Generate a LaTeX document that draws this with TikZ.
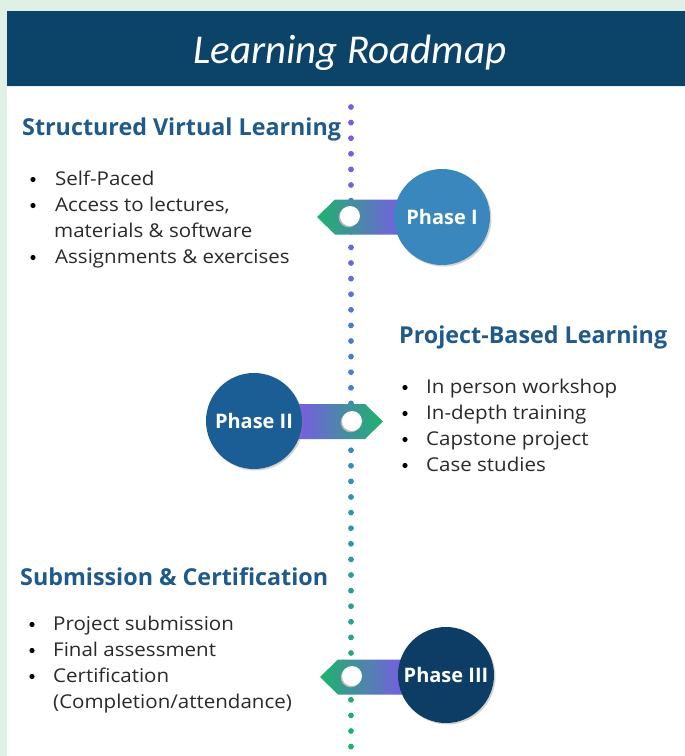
\documentclass[tikz,border=0pt]{standalone}
\usepackage{fontspec}
\setmainfont{Open Sans}
\newfontfamily\titlefont{Carlito}
\newfontfamily\bodyfont[FakeStretch=1.08]{Open Sans}
\usetikzlibrary{shadows}

\definecolor{bgmint}{HTML}{DFF0E6}
\definecolor{band}{HTML}{0C4369}
\definecolor{heading}{HTML}{1F5A8A}
\definecolor{bodytext}{HTML}{2A2A2A}
\definecolor{purp}{HTML}{7B5BE6}
\definecolor{midblue}{HTML}{3F86C8}
\definecolor{grn}{HTML}{1DB36B}
\definecolor{phaseA}{HTML}{3A87BE}
\definecolor{phaseB}{HTML}{1B5E95}
\definecolor{phaseC}{HTML}{0D3D64}

\tikzset{
  phasecircle/.style={circle, minimum size=96pt, inner sep=0pt, text=white,
    font=\bfseries\fontsize{20}{20}\selectfont,
    drop shadow={shadow xshift=1.5pt, shadow yshift=-1.5pt, opacity=0.35}},
  knob/.style={circle, fill=white, minimum size=20pt, inner sep=0pt,
    general shadow={fill=gray!55, shadow xshift=-1.3pt, shadow yshift=-1.3pt}},
  headtext/.style={anchor=base west, inner sep=0pt, text=heading,
    font=\bfseries\fontsize{23.3}{23.3}\selectfont},
  itemtext/.style={anchor=base west, inner sep=0pt, text=bodytext,
    font=\bodyfont\fontsize{19}{19}\selectfont},
  bulletdot/.style={circle, fill=black, inner sep=0pt, minimum size=5.2pt},
}

\begin{document}
\begin{tikzpicture}[x=1pt, y=-1pt]
  % page background and white panel
  \fill[bgmint] (0,0) rectangle (685,756);
  \useasboundingbox (0,0) rectangle (685,756);
  \fill[white] (7,87) rectangle (685,756);

  % title band
  \fill[band] (7,11) rectangle (685,86);
  \node[anchor=base, inner sep=0pt, text=white,
        font=\titlefont\itshape\fontsize{41}{41}\selectfont] (title) at (350,63) {Learning Roadmap};

  % dotted timeline, purple at the top to green at the bottom
  \foreach \k in {0,...,41}{
    \pgfmathsetmacro\yy{107+15.6*\k}
    \ifnum\k<21
      \pgfmathtruncatemacro\p{100-5*\k}
      \colorlet{dotc}{purp!\p!midblue}
    \else
      \pgfmathtruncatemacro\p{100-(\k-20)*100/21}
      \colorlet{dotc}{midblue!\p!grn}
    \fi
    \fill[dotc] (351,\yy) circle[radius=2.9];
  }

  % Phase I pointer (points left)
  \shade[left color=grn, right color=purp]
    (317,217) -- (335,199.5) -- (404,199.5) -- (404,234.5) -- (335,234.5) -- cycle;
  % Phase II pointer (points right)
  \shade[left color=purp, right color=grn]
    (296,404) -- (365,404) -- (383,421.5) -- (365,439) -- (296,439) -- cycle;
  % Phase III pointer (points left)
  \shade[left color=grn, right color=purp]
    (320,677) -- (338,659.5) -- (406,659.5) -- (406,694.5) -- (338,694.5) -- cycle;

  % knobs on the timeline
  \node[knob] (k1) at (350,216) {};
  \node[knob] (k2) at (352,421) {};
  \node[knob] (k3) at (352,676) {};

  % phase circles
  \node[phasecircle, fill=phaseA] (p1) at (442,217) {Phase I};
  \node[phasecircle, fill=phaseB] (p2) at (254,421) {Phase II};
  \node[phasecircle, fill=phaseC] (p3) at (446,675) {Phase III};

  % Structured Virtual Learning
  \node[headtext] (h1) at (22,135) {Structured Virtual Learning};
  \node[bulletdot] (b11) at (33,179.5) {};
  \node[itemtext] (t11) at (55,185) {Self-Paced};
  \node[bulletdot] (b12) at (33,205.5) {};
  \node[itemtext] (t12) at (55,211) {Access to lectures,};
  \node[itemtext] (t12b) at (54,237) {materials \& software};
  \node[bulletdot] (b13) at (33,257.5) {};
  \node[itemtext] (t13) at (55,263) {Assignments \& exercises};

  % Project-Based Learning
  \node[headtext] (h2) at (399,343) {Project-Based Learning};
  \node[bulletdot] (b21) at (405,387.5) {};
  \node[itemtext] (t21) at (426,393) {In person workshop};
  \node[bulletdot] (b22) at (405,413.5) {};
  \node[itemtext] (t22) at (426,419) {In-depth training};
  \node[bulletdot] (b23) at (405,439.5) {};
  \node[itemtext] (t23) at (426,445) {Capstone project};
  \node[bulletdot] (b24) at (405,465.5) {};
  \node[itemtext] (t24) at (426,471) {Case studies};

  % Submission & Certification
  \node[headtext] (h3) at (20,585) {Submission \& Certification};
  \node[bulletdot] (b31) at (32,624.5) {};
  \node[itemtext] (t31) at (53,630) {Project submission};
  \node[bulletdot] (b32) at (32,650.5) {};
  \node[itemtext] (t32) at (53,656) {Final assessment};
  \node[bulletdot] (b33) at (32,676.5) {};
  \node[itemtext] (t33) at (53,682) {Certification};
  \node[itemtext] (t33b) at (53,708) {(Completion/attendance)};
\end{tikzpicture}
\end{document}
